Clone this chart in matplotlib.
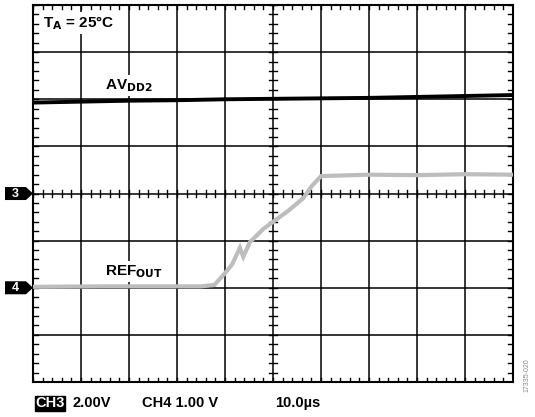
import matplotlib
matplotlib.use("Agg")
import matplotlib.pyplot as plt
from matplotlib.patches import Polygon
import numpy as np

plt.rcParams['font.family'] = ['Liberation Sans', 'DejaVu Sans']

# traces in screen divisions (x: 0..10, y: 0..8 from bottom)
avdd_x = [0.0, 1.0, 2.0, 3.0, 4.0, 5.0, 6.0, 7.0, 8.0, 9.0, 10.0]
avdd_y = [5.93, 5.95, 5.97, 5.98, 6.0, 6.01, 6.02, 6.03, 6.05, 6.07, 6.09]

ref_x = [0.0, 1.5, 3.5, 3.78, 4.0, 4.15, 4.31, 4.38, 4.52, 4.8, 5.0, 5.3, 5.63, 5.8, 6.0, 7.0, 8.0, 9.0, 10.0]
ref_y = [2.02, 2.03, 2.03, 2.06, 2.31, 2.5, 2.85, 2.66, 2.97, 3.25, 3.4, 3.62, 3.9, 4.15, 4.37, 4.4, 4.39, 4.41, 4.4]

W, H = 535, 417
fig = plt.figure(figsize=(W / 100, H / 100), dpi=100)
ax = fig.add_axes([0.0617, 0.0839, 0.8972, 0.904])
ax.set_xlim(0, 10)
ax.set_ylim(0, 8)

for x in range(1, 10):
    ax.axvline(x, color='black', lw=1.1, zorder=1)
for y in range(1, 8):
    ax.axhline(y, color='black', lw=1.1, zorder=1)

# minor ticks on border and centre lines
mx = np.arange(0, 10.01, 0.2)
my = np.arange(0, 8.01, 0.2)
tick = 0.09
for x in mx:
    ax.plot([x, x], [8, 8 - tick], color='black', lw=1, zorder=1)
    ax.plot([x, x], [0, tick], color='black', lw=1, zorder=1)
    ax.plot([x, x], [4 - tick * 0.8, 4 + tick * 0.8], color='black', lw=1, zorder=1)
for y in my:
    ax.plot([0, tick * 1.2], [y, y], color='black', lw=1, zorder=1)
    ax.plot([10, 10 - tick * 1.2], [y, y], color='black', lw=1, zorder=1)
    ax.plot([5 - tick, 5 + tick], [y, y], color='black', lw=1, zorder=1)

ax.plot(ref_x, ref_y, color='#bdbdbd', lw=3, zorder=3, solid_joinstyle='miter')
ax.plot(avdd_x, avdd_y, color='black', lw=2.8, zorder=3)

ax.set_xticks([])
ax.set_yticks([])
for s in ax.spines.values():
    s.set_linewidth(1.5)

wbox = dict(boxstyle='square,pad=0.15', fc='white', ec='none')
ax.text(0.2, 7.62, r'T$_\mathbf{A}$ = 25°C', fontsize=11, fontweight='bold', va='center', bbox=wbox, zorder=4)
ax.text(1.5, 6.3, r'AV$_\mathbf{DD2}$', fontsize=11, fontweight='bold', va='center', bbox=wbox, zorder=4)
ax.text(1.5, 2.35, r'REF$_\mathbf{OUT}$', fontsize=11, fontweight='bold', va='center', bbox=wbox, zorder=4)

# channel markers (black flag with arrow tip touching the left border)
for lvl, lab in [(4, '3'), (2, '4')]:
    yf = 0.0839 + 0.904 * lvl / 8
    hy = 6.5 / H
    pts = [(5 / W, yf - hy), (26 / W, yf - hy), (33 / W, yf), (26 / W, yf + hy), (5 / W, yf + hy)]
    fig.patches.append(Polygon(pts, closed=True, fc='black', ec='none', transform=fig.transFigure))
    fig.text(15 / W, yf, lab, color='white', fontsize=9, fontweight='bold', ha='center', va='center')

fig.text(0.066, 0.033, 'CH3', color='white', fontsize=10.5, fontweight='bold', va='center',
         bbox=dict(boxstyle='square,pad=0.05', fc='black', ec='black'))
fig.text(0.135, 0.033, '2.00V', fontsize=10.5, fontweight='bold', va='center')
fig.text(0.265, 0.033, 'CH4 1.00 V', fontsize=10.5, fontweight='bold', va='center')
fig.text(0.515, 0.033, '10.0µs', fontsize=10.5, fontweight='bold', va='center')
fig.text(0.985, 0.1, '17335-020', fontsize=5, color='#888888', rotation=90, ha='center', va='center')

fig.savefig('out.png', dpi=100)
